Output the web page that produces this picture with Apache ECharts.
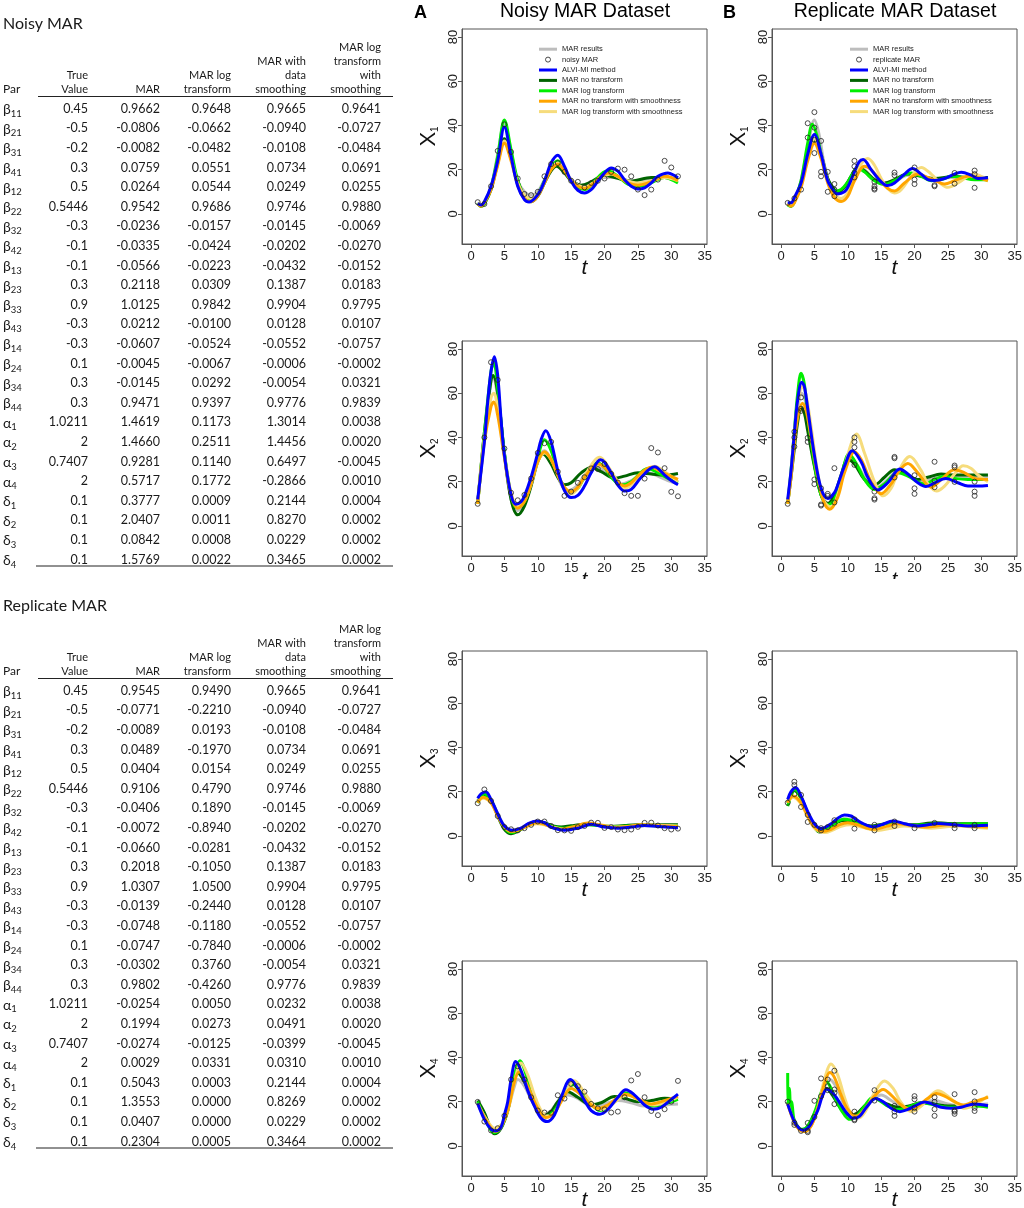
<!DOCTYPE html>
<html>
<head>
<meta charset="utf-8">
<script src="https://cdn.jsdelivr.net/npm/echarts@6/dist/echarts.min.js"></script>
<style>html,body{margin:0;padding:0;background:#fff}#c{width:1024px;height:1208px}</style>
</head>
<body>
<div id="c"></div>
<script>
// ---------------- TABLE DATA ----------------
const parLabels = [['β','11'],['β','21'],['β','31'],['β','41'],['β','12'],['β','22'],['β','32'],['β','42'],['β','13'],['β','23'],['β','33'],['β','43'],['β','14'],['β','24'],['β','34'],['β','44'],['α','1'],['α','2'],['α','3'],['α','4'],['δ','1'],['δ','2'],['δ','3'],['δ','4']];
const tableHeaders = [['True','Value'],['MAR'],['MAR log','transform'],['MAR with','data','smoothing'],['MAR log','transform','with','smoothing']];
const trueValues = ['0.45','-0.5','-0.2','0.3','0.5','0.5446','-0.3','-0.1','-0.1','0.3','0.9','-0.3','-0.3','0.1','0.3','0.3','1.0211','2','0.7407','2','0.1','0.1','0.1','0.1'];
const noisyMAR = ['0.9662','-0.0806','-0.0082','0.0759','0.0264','0.9542','-0.0236','-0.0335','-0.0566','0.2118','1.0125','0.0212','-0.0607','-0.0045','-0.0145','0.9471','1.4619','1.4660','0.9281','0.5717','0.3777','2.0407','0.0842','1.5769'];
const noisyMARlog = ['0.9648','-0.0662','-0.0482','0.0551','0.0544','0.9686','-0.0157','-0.0424','-0.0223','0.0309','0.9842','-0.0100','-0.0524','-0.0067','0.0292','0.9397','0.1173','0.2511','0.1140','0.1772','0.0009','0.0011','0.0008','0.0022'];
const noisyMARsmooth = ['0.9665','-0.0940','-0.0108','0.0734','0.0249','0.9746','-0.0145','-0.0202','-0.0432','0.1387','0.9904','0.0128','-0.0552','-0.0006','-0.0054','0.9776','1.3014','1.4456','0.6497','-0.2866','0.2144','0.8270','0.0229','0.3465'];
const noisyMARlogSmooth = ['0.9641','-0.0727','-0.0484','0.0691','0.0255','0.9880','-0.0069','-0.0270','-0.0152','0.0183','0.9795','0.0107','-0.0757','-0.0002','0.0321','0.9839','0.0038','0.0020','-0.0045','0.0010','0.0004','0.0002','0.0002','0.0002'];
const repMAR = ['0.9545','-0.0771','-0.0089','0.0489','0.0404','0.9106','-0.0406','-0.0072','-0.0660','0.2018','1.0307','-0.0139','-0.0748','-0.0747','-0.0302','0.9802','-0.0254','0.1994','-0.0274','0.0029','0.5043','1.3553','0.0407','0.2304'];
const repMARlog = ['0.9490','-0.2210','0.0193','-0.1970','0.0154','0.4790','0.1890','-0.8940','-0.0281','-0.1050','1.0500','-0.2440','-0.1180','-0.7840','0.3760','-0.4260','0.0050','0.0273','-0.0125','0.0331','0.0003','0.0000','0.0000','0.0005'];
const repMARsmooth = ['0.9665','-0.0940','-0.0108','0.0734','0.0249','0.9746','-0.0145','-0.0202','-0.0432','0.1387','0.9904','0.0128','-0.0552','-0.0006','-0.0054','0.9776','0.0232','0.0491','-0.0399','0.0310','0.2144','0.8269','0.0229','0.3464'];
const repMARlogSmooth = ['0.9641','-0.0727','-0.0484','0.0691','0.0255','0.9880','-0.0069','-0.0270','-0.0152','0.0183','0.9795','0.0107','-0.0757','-0.0002','0.0321','0.9839','0.0038','0.0020','-0.0045','0.0010','0.0004','0.0002','0.0002','0.0002'];

// ---------------- CHART DATA ----------------
const xTicks = [0,5,10,15,20,25,30,35];
const yTicks = [0,20,40,60,80];
const seriesNames = ['MAR results','ALVI-MI method','MAR no transform','MAR log transform','MAR no transform with smoothness','MAR log transform with smoothness'];

// Noisy X1
const noisyX1_marResults = [[1,5],[1.5,4],[2,5],[3,12],[4,27],[5,41],[6,28],[7,15],[8,10],[9,8.5],[10,10],[11,15.5],[12,20.5],[12.8,22],[14,19],[15,15.5],[16.5,13],[18,14],[20,16.5],[21.5,16.5],[24,15],[27,16],[29,16.5],[31,15.5]];
const noisyX1_alvi = [[1,4.7],[1.5,4],[2,5.5],[3,12.5],[4,24],[5,39.3],[6,26],[7,12.5],[8,6.5],[8.7,5.4],[10,8.7],[11,14.8],[12,23],[13,26.5],[14,21.5],[15,14.8],[16,10.7],[17,9.5],[18,11],[19,14.8],[20,18.5],[21,20.8],[22,19.3],[23,15.5],[24,12.5],[25,11.3],[26,11.8],[27,14],[28,17],[29.5,18.5],[30.5,17.3],[31,16.3]];
const noisyX1_noTransform = [[1,5],[1.5,3.5],[2,4.5],[3,11],[4,23],[5,34],[6,25],[7,15],[8,8],[9,5.5],[10,8],[11,14],[12,19.5],[12.8,21.5],[14,18.5],[15,15],[16.5,13],[18,14.5],[20,17.5],[21.5,16.5],[24,14.8],[27,16.5],[29,16.5],[31,15.5]];
const noisyX1_logTransform = [[1,5],[1.5,3.5],[2,4.5],[3,12],[4,26],[5,42.5],[6,29],[7,15],[8,8],[9,6.5],[10,9],[11,15],[12,21],[13,24],[14,20],[15,15],[16,12],[17,11],[18,13],[19.5,18],[20.5,19.5],[22,17],[23.5,13.5],[25,12.5],[26.5,13.5],[28,15.5],[29,16.5],[30,15.5],[31,14]];
const noisyX1_noTransformSmooth = [[1,4.5],[1.5,3.5],[2,5],[3,11],[4,22],[5,32],[6,24],[7,13],[8,7],[9,5.5],[10,8],[11,14],[12,20],[13,22.5],[14,19.5],[15,15],[16,12.5],[17,11.5],[18,13],[19.5,17],[20.5,18.5],[22,17],[23.5,14],[25,13],[26.5,14],[28,16],[29,17],[30,16.5],[31,15]];
const noisyX1_logTransformSmooth = [[1,5],[1.5,4],[2,5.5],[3,12],[4,23],[5,33],[6,25],[7,14],[8,8.5],[9,7],[10,9],[11,14.5],[12,20.5],[13,23],[14,20],[15,15.5],[16,13],[17,12],[18,13.5],[19.5,16.5],[21,18],[22.5,16],[24,14.5],[25,14],[26.5,14.5],[28,15.8],[29,16.5],[30,16],[31,15]];
const noisyX1_points = [5.3,4.5,12.5,28.5,40.5,28,16,9,8.5,10,17,22.5,23,19,15,14.5,12,14,15,16,19,20.5,20,17,11,8.5,11,15.5,24,21,17];

// Noisy X2
const noisyX2_marResults = [[1,10],[2,40],[3,65],[3.3,67],[4,58],[5,32],[6,12],[7,7],[8,10],[9,19],[10,30],[11,34],[12,30],[13,22],[14,16.5],[14.6,16],[16,18.5],[17,23],[18.5,27],[20,25],[21,22],[22.5,19],[24,20.5],[26.5,24],[28,22.5],[29.5,20.5],[31,19]];
const noisyX2_alvi = [[1,12],[2,38],[2.5,56],[3,70],[3.5,76.5],[4,68],[4.5,48],[5,32],[6,14],[6.7,9.8],[7.5,11],[8,13.5],[9,22],[10,33],[10.5,39],[11.2,43],[12,38],[13,25],[14,16],[15,12.8],[16,13.8],[17,18],[18,24],[19.4,29.9],[20,28.8],[21,24],[22,18.5],[23,15.8],[24,16.5],[25.5,22],[27.5,26.7],[29,23],[30,20.5],[31,18.6]];
const noisyX2_noTransform = [[1,10],[2,42],[3,66],[3.3,68],[4,60],[5,33],[6,12],[7,5],[8,9],[9,18],[10,29],[10.8,32.5],[12,28],[13,22],[14,18.6],[15,19.5],[16.5,24],[18,26.4],[19.5,24.5],[21.5,21.6],[23,22.5],[25,24],[27,23.5],[29,23],[31,23.7]];
const noisyX2_logTransform = [[1,10],[2,42],[3,70],[3.4,74],[4,62],[5,33],[6,14],[6.8,8.3],[8,11],[9,20],[10,31],[11,39],[12,34],[13,24],[14,16.5],[14.6,15],[16,17],[17,22],[19,28.5],[20,26.5],[21,22],[22.5,18.5],[24,20],[26.5,26],[28,24],[29.5,21.5],[31,19.6]];
const noisyX2_noTransformSmooth = [[1,10],[2,38],[3,54],[3.4,56],[4,50],[5,31],[6,14],[7,8],[8,11],[9,19],[10,29],[11,33.5],[12,30],[13,23],[14,17.5],[15,15.5],[16,17.5],[17,22],[19,28],[20,26.5],[21,23],[23,18.1],[24,19.5],[25.5,24],[27,26.5],[28.5,24.5],[31,21]];
const noisyX2_logTransformSmooth = [[1,10],[2,40],[3,58],[3.4,60],[4,53],[5,32],[6,15],[7,9],[8,11.5],[9,19],[10,29],[11,33],[12,30],[13,23],[14,17],[15,14.5],[16,17],[17,22.5],[18.5,29.5],[19.3,31],[20.5,27],[22,20],[23,17],[24,18.5],[25.5,23],[27.5,27],[29,24.5],[31,20]];
const noisyX2_points = [10,40,74,66,35,15,11.6,14,21.4,33,37.4,38,24.5,13.6,15.5,19.5,22,26,25.7,28,23.5,19.6,14.8,13.6,13.6,21.4,35.2,33.2,26.1,15.4,13.4];

// Noisy X3
const noisyX3_marResults = [[1,16],[1.5,18.5],[2,19.5],[3,16.5],[4,10],[5,4.5],[6.1,2.5],[7.5,3.5],[8.5,5.3],[9.8,6.5],[11,5.8],[12.3,4],[14,3],[16,3.8],[18,5.2],[20,4.2],[22,3.7],[24,4],[26,4.6],[28,4.4],[31,3.9]];
const noisyX3_alvi = [[1,17],[1.5,19],[2.2,20],[3,16.5],[4,10],[5,4.5],[6.2,2.6],[7.5,3.5],[8.5,5.5],[9.8,6.8],[11,6],[12,4],[13,3],[14,2.6],[16,3.5],[18,5.3],[20,4],[22,3.5],[24,4],[26,4.7],[28,4.3],[31,3.7]];
const noisyX3_noTransform = [[1,15],[1.5,17.5],[2,18.5],[3,16],[4,9],[5,3],[6,1],[7,2],[8.3,4.5],[9.8,6.5],[11,6],[12.3,4.5],[13.5,4],[15,4.6],[17,5.3],[19,4.8],[21,4.3],[23,4.7],[25,5],[28,5],[31,5]];
const noisyX3_logTransform = [[1,15],[1.5,17.5],[2,19],[3,16],[4,9.5],[5,3.8],[6,1.5],[7,2.3],[8.3,4.5],[9.8,6],[11,5.5],[12.5,4],[13.8,3.5],[15.5,4.3],[17.7,5],[19.5,4.6],[21.5,4.2],[23.5,4.5],[25.5,4.8],[28,4.6],[31,4.5]];
const noisyX3_noTransformSmooth = [[1,15],[1.3,16.5],[1.8,17.5],[3,15],[4,9],[5,4],[6,2],[7,2.5],[8.3,4.3],[9.8,6],[11,5.3],[12.3,3.8],[13.5,3],[15.5,4.3],[17.5,5.8],[19.5,4.8],[21.5,3.8],[23.5,4.3],[25.5,5],[28,4.6],[31,4.2]];
const noisyX3_logTransformSmooth = [[1,15],[1.3,16.3],[1.8,17],[3,15],[4,9.5],[5,4.5],[6,2.5],[7,3],[8.3,4.3],[9.8,5.5],[11,5],[12.5,3.8],[14,3],[16,4.2],[18,5.5],[20,4.7],[22,4],[24,4.4],[26,5],[28,4.8],[31,4.5]];
const noisyX3_points = [14.8,21,15.8,9,4,3,2.5,3.5,5,6.5,6.5,4.5,2.6,2.5,2.3,4,4.5,6,5.9,3.6,4,2.9,2.6,2.9,4.1,5.9,6,4.7,3.5,2.9,3.3];

// Noisy X4
const noisyX4_marResults = [[1,20],[2,14],[3,8],[3.5,7],[4.5,9],[5.5,16],[6.5,27],[7,30],[8,27],[9,21],[10,16],[11,14.5],[12,16],[13,20],[14.5,23],[16,21.5],[17.5,18.5],[18.5,18],[20,19],[22,20.5],[24,19.5],[26,18],[28,18],[30,18.8],[31,19]];
const noisyX4_alvi = [[1,19.2],[2,12],[3,7.5],[3.7,6.8],[4.5,8.5],[5,14],[5.5,20],[6,30],[6.7,38.2],[7.5,34],[8.5,25],[9.5,18],[10.5,12.5],[11.4,11],[12.5,14],[13.5,22],[14.9,30],[16,26],[17,20.5],[18,16],[19.3,14.3],[20.5,16.5],[22,22],[23.2,25.4],[24.5,23],[26,18.5],[27.3,16.6],[28.5,17.5],[30,21],[31,23.4]];
const noisyX4_noTransform = [[1,20.5],[2,15],[3,7.5],[3.5,5.5],[4.5,8],[5.5,16],[6.3,28],[7,33],[8,29],[9,22],[10,16],[11,14],[12,15.5],[13,20],[14.5,24.5],[16,22],[18,18.6],[19.5,19.5],[21.5,22.3],[23,21.5],[25,20],[27,20.5],[29,21.5],[31,21]];
const noisyX4_logTransform = [[1,20],[2,13],[3,7],[3.5,6],[4.5,8.5],[5.5,16],[6.5,32],[7.3,38.5],[8.5,30],[9.5,21],[10.5,15],[11.3,13.5],[12.5,16],[14,23.5],[15.2,27.9],[16.5,24],[18,19],[19.3,16],[20.5,17.5],[22,21.5],[23,24],[24.5,22],[26,19],[27,18],[28.5,18.5],[31,21]];
const noisyX4_noTransformSmooth = [[1,19],[2,13],[3,8],[3.7,6.5],[4.5,8.5],[5.5,16],[6.5,29],[7.2,33.5],[8.5,27],[9.5,20],[10.5,14.5],[11.2,12.8],[12.5,15],[13.5,20],[15,26],[16.5,23],[18,18.5],[19,17],[20.5,18.5],[22,22],[23,23.4],[24.5,22],[26,19.8],[27,19],[28.5,20],[31,22.5]];
const noisyX4_logTransformSmooth = [[1,19],[2,13.5],[3,9],[3.5,8],[4.5,9.5],[5.5,16],[6.5,29],[7.5,37.5],[8.5,32],[9.5,23],[10.5,16],[11.5,13.5],[12.5,15],[14,23],[15.5,29.5],[17,24],[18.5,18],[19.5,16.5],[21,18.5],[22.5,22],[23.5,23],[25,21],[26.5,19],[27.5,18.5],[29,19.5],[31,22]];
const noisyX4_points = [19.9,11,7,8,13.6,30,36,30,22,16,15.1,15,22.9,21.4,28,27,24.5,19,17,16.5,15.1,15.5,22,29.6,32.5,22,15.8,13.9,16.6,20,29.4];

// Replicate X1
const repX1_marResults = [[1,5],[1.5,4],[2,6],[3,15],[4,30],[5,42.5],[5.7,36],[6.5,22],[7.5,12],[8.3,10],[9.5,12],[10.5,17],[11.5,21],[12.5,20],[14,15.5],[15.5,13.5],[17,14.5],[19,17.5],[21,17],[23,15.5],[25.5,16.5],[28,16.5],[31,16]];
const repX1_alvi = [[1,5],[1.5,5],[2,7.5],[3,14],[4,27],[5,35.9],[6,27],[7,15],[8,10],[8.5,9],[9.5,10],[10,12],[11,19],[11.7,23.5],[12.3,24.6],[13.5,20],[15,14.5],[16,12.8],[17,14],[18.5,18],[19.7,20.5],[21,18],[22,15.5],[23,15.1],[24.5,16],[26,18],[27,18.8],[28.5,17.5],[29.5,16],[31,16.3]];
const repX1_noTransform = [[1,4.5],[1.5,3.5],[2,5.5],[3,14],[4,26],[5,33],[6,27],[7,16],[8,11],[8.5,10],[9.5,12],[10.5,17],[11.5,21],[12.5,19.5],[14,15.5],[15.5,14],[17,15.5],[19,18],[21,17],[23,16],[26,17],[28,16.5],[31,16.5]];
const repX1_logTransform = [[1,4],[1.5,3.5],[2,5.5],[3,15],[4,32],[4.7,40.5],[5.5,34],[6.5,20],[7.5,11],[8,10.2],[9,11],[10,14.5],[11.5,20.8],[12.5,19],[14,15],[15.5,13.3],[17,15],[19.5,18.5],[21,17],[22.5,15],[24,15.5],[25.5,17],[27,16.5],[29,15.5],[31,15.5]];
const repX1_noTransformSmooth = [[1,4.5],[1.5,3.5],[2,5],[3,12],[4,24],[5,32],[6,25],[7,14],[8,7.5],[9,5.6],[10,8],[11,15],[12.5,21.5],[13.5,20],[15,14.5],[16,11.5],[17,10.4],[18.5,14],[20.5,18],[22,16.5],[23.5,14.5],[24.5,13.5],[26,15],[28,17],[29.5,16.5],[31,15]];
const repX1_logTransformSmooth = [[1,5],[1.5,4],[2,5.5],[3,13],[4,26],[5,34],[6,27],[7,15],[8,8.5],[9,7],[10,9.5],[11,16],[12,22.5],[13,25],[14,22],[15,16],[16,11.5],[17,9.5],[18,11],[19.5,17],[21,21],[22.5,18],[24,13.5],[25,12],[26.5,14],[28,17],[29,18],[30,17],[31,15.5]];
const repX1_points = [[1,5],[2,7],[3,11],[4,41],[4,34.5],[5,46],[5,39],[5,33.5],[5,27.5],[6,33],[6,19],[6,17],[7,19],[7,10],[8,13.5],[8,11],[8,8],[11,24],[11,21.5],[11,18.5],[11,16.5],[14,14.5],[14,12.5],[14,11.5],[14,11],[17,18.7],[17,17.5],[20,21],[20,15.5],[20,13.5],[23,13],[23,12.5],[26,18.5],[26,13.7],[29,19.6],[29,18],[29,11.8]];

// Replicate X2
const repX2_marResults = [[1,10],[1.5,24],[2,40],[2.5,53],[3.1,60],[3.6,57],[4.2,46],[5,28],[6,14],[7,10.5],[8,13],[9,21],[10.3,31],[11.5,27],[13,20],[14.3,17.5],[16,21],[17.5,25],[19,23],[21,20],[23,21.5],[25,23],[27,22.5],[31,22]];
const repX2_alvi = [[1,12],[1.5,25],[2,42],[2.5,57],[3.1,65],[3.5,63],[4,53],[5,32],[6,17],[7,12.4],[8,15],[8.5,18.5],[9.5,27],[10.7,34],[12,29],[13,22],[14.5,16.2],[16,19.5],[17.8,25.7],[19,23.5],[20.5,19.5],[21.7,17.8],[23,19.5],[24.7,21.4],[26.5,19.5],[28,18],[29.5,18],[31,18.3]];
const repX2_noTransform = [[1,10],[1.5,22],[2,35],[2.5,47],[3,53.5],[3.5,51],[4,43],[5,27],[6,14],[7,10],[8,14],[9,23],[10,30],[11,28],[12.5,21],[14,18.6],[15.5,22],[17,25.4],[18.5,24],[20.5,21],[22,22],[24,23.5],[26,23],[28,23],[31,23]];
const repX2_logTransform = [[1,10],[1.5,25],[2,43],[2.5,60],[3,69],[3.5,64],[4,50],[5,28],[6,14],[7,9.5],[8,12],[9,22],[10.2,32.5],[11.5,27],[12.5,21],[14,16.5],[15.5,19],[17.5,24],[19,22.5],[21.5,19],[23,21],[24.5,22.5],[26,21.5],[28,21],[31,21]];
const repX2_noTransformSmooth = [[1,10],[1.5,22],[2,37],[2.5,49],[3.2,55.5],[3.7,53],[4.5,40],[5.5,22],[6.5,10],[7.3,7.5],[8.5,13],[9.5,24],[11,33.5],[12,30],[13.5,20],[15,14.5],[16.5,19],[17.5,24],[19,28.2],[20.5,24],[22.5,17.5],[24,21],[26,25.4],[27.5,24],[29,21.5],[31,21]];
const repX2_logTransformSmooth = [[1,10],[1.5,24],[2,42],[2.5,55],[3.2,63],[3.7,60],[4.5,45],[5.5,24],[6.5,11],[7.5,8.5],[8.5,14],[9.5,26],[10.5,37],[11.3,41.5],[12.5,33],[14,20],[15.3,13.6],[16.5,17],[17.5,24],[19.3,31.4],[21,25],[22,19],[23.3,15.8],[24.5,18],[26,23.5],[27.3,27.2],[28.5,26],[29.5,23],[31,20]];
const repX2_points = [[1,10],[2,42.6],[2,40],[2,35.8],[3,58.1],[3,53],[3,52],[4,39.8],[4,38],[5,21],[5,18.9],[6,17],[6,9.7],[6,9.2],[7,14.5],[7,13.6],[8,26.1],[8,10.6],[11,40],[11,38],[11,35.5],[11,27.6],[14,15.5],[14,12.5],[14,11.9],[17,31.2],[17,30.6],[17,21.9],[20,22.9],[20,17],[20,14.5],[23,29],[23,20.5],[23,17.5],[26,27.3],[26,26.5],[26,19.9],[29,20],[29,15.5],[29,13.6]];

// Replicate X3
const repX3_marResults = [[1,15],[1.5,19],[2.1,21],[3,17.5],[4,10.5],[5,5],[6,2.8],[7.5,4.5],[8.5,6.5],[9.5,7.8],[10.7,7.2],[12,5.5],[13.8,4.2],[15.2,5],[16.8,6.3],[18.5,5.4],[20.3,4.7],[22,5],[23.5,5.4],[26,5],[31,4.9]];
const repX3_alvi = [[1,16.5],[1.5,20],[2.2,21.9],[3,18],[4,11],[5,5.5],[6,3.3],[7.5,5.5],[8.5,8],[9.5,9.5],[10.5,9],[11,8],[12,6],[13.8,4.1],[15,5],[16.8,6.8],[18.5,5.5],[20.5,4.5],[22,5],[23.5,5.6],[26,5],[28,4.5],[31,4.8]];
const repX3_noTransform = [[1,15],[1.5,19],[2,21],[3,17.5],[4,10],[5,4],[5.8,1.8],[7,3.5],[8.2,5.8],[9.3,7],[10.5,6.8],[12,5.3],[13.5,4.5],[15,5.2],[16.5,6],[18.3,5.4],[20,5],[21.5,5.5],[23,6],[25,5.6],[28,5.5],[31,5.5]];
const repX3_logTransform = [[1,13.5],[1.5,18],[2,20.5],[3,17],[4,10],[5,4],[5.8,2],[7,3.5],[8.2,6],[9.3,7.5],[10.5,7],[12,5],[13.5,4],[15,5],[16.8,6.3],[18.5,5.3],[20,4.8],[21.8,5.2],[23.5,5.5],[26,5.3],[28,5.5],[31,5.5]];
const repX3_noTransformSmooth = [[1,15],[1.3,16.8],[1.8,18],[3,15],[4,9],[5,4],[6.2,2],[7.5,3],[8.7,5],[10,6],[11.5,5],[12.8,3.6],[14,3],[15.8,4.3],[17.5,5.5],[19.5,4.8],[21.5,4],[23.3,4.5],[25,5],[28,4.5],[31,4]];
const repX3_logTransformSmooth = [[1,15],[1.3,16.5],[1.8,17.5],[3,14.5],[4,8.5],[5,3.5],[6.5,1.5],[8,3],[9,4.3],[10.3,5],[12,4],[14.5,2.5],[16.5,3.5],[18.5,4.5],[20.5,4],[22.5,3.5],[24.5,4],[26.5,4.5],[28.5,4],[31,3.5]];
const repX3_points = [[1,15],[2,24.5],[2,23],[2,18.9],[3,18.5],[3,13.1],[4,9.5],[4,6.3],[5,5],[6,3.5],[6,2.5],[7,4],[8,7.1],[8,5.5],[11,7.5],[11,3.3],[14,5],[14,2.5],[17,6.5],[17,4.5],[20,3.5],[23,5.9],[26,5],[26,3.5],[29,5],[29,3.5]];

// Replicate X4
const repX4_marResults = [[1,19.5],[2,11],[2.7,8],[3.5,7],[4.5,9.5],[5.5,17],[6.5,26.5],[7.3,30],[8.3,26.5],[9.5,18.5],[11,13.5],[12.5,17],[14,21.5],[15,23],[16.5,20.5],[18,17.5],[19,17],[21,19.5],[23,20.5],[25,19],[27,18],[29,18.5],[31,19]];
const repX4_alvi = [[1,18.9],[2,11],[2.7,8],[3.3,7.1],[4,8],[4.5,10],[5.5,16],[6.2,22.5],[6.9,25.7],[8,23],[9,18.5],[9.8,15],[10.8,12.5],[11.8,13.5],[12.8,17.5],[14.2,21.4],[15.5,19.5],[16.5,17],[17.8,15.5],[19,16.5],[20,18],[21.5,19.9],[23,18.5],[24,17.5],[25.5,17],[27,17.5],[29,19],[31,18.2]];
const repX4_noTransform = [[1,20],[2,11.5],[2.7,8],[3.2,7],[4,9],[5,14.5],[6,21.5],[6.8,26],[7.7,23],[8.7,18],[9.5,15],[10.5,14],[11.5,15],[12.5,18],[14,21.5],[15.5,19.5],[17.5,17.5],[19,18],[21,19.5],[23,19],[25,18],[27,18],[29,18.5],[31,18]];
const repX4_logTransform = [[1,33],[1.05,18],[1.25,26],[1.45,15],[1.6,20],[2,11],[2.7,8],[3.2,7.5],[4,9],[5,15],[6,24],[6.8,29.1],[7.5,26],[8.5,19],[9.5,14],[10.3,12],[11.5,14],[12.5,18],[13.8,22],[15,20],[16,18],[17.5,16.5],[19,17.5],[21,19.5],[23,18.5],[25,17.5],[27,17.5],[29,18],[31,17.5]];
const repX4_noTransformSmooth = [[1,19],[2,10.5],[2.7,7.5],[3.5,6.5],[4.5,9],[5.5,17],[6.5,28],[7.3,33.2],[8,31],[9,23],[10,16.5],[11.3,13.5],[12.5,16.5],[14,22.5],[15.3,25.5],[16.5,23],[18,18.5],[19.3,16.5],[20.5,18],[22,21.5],[23.3,23.7],[24.5,22.5],[26,20],[27.3,18.5],[28.5,19.5],[30,21],[31,22]];
const repX4_logTransformSmooth = [[1,19],[2,10.5],[2.7,7.5],[3.5,6.5],[4.5,9],[5.5,17],[6.5,30],[7.5,37],[8.5,32],[9.5,22],[10.5,14.5],[11.5,12.5],[12.5,15],[14,24],[15.5,29.4],[16.8,26],[18,19.5],[19.5,15.5],[21,18],[22.5,23],[23.5,24.9],[25,22.5],[26.5,18.5],[27.5,17],[29,18.5],[31,22.5]];
const repX4_points = [[1,20],[2,9.5],[2,10.5],[3,6.8],[4,10.4],[4,6.8],[4,6.2],[5,20.4],[5,13.1],[6,30.5],[6,22.5],[7,30],[7,27],[7,25.2],[8,34],[8,25.5],[8,24],[8,18.9],[11,15.5],[11,12.1],[11,11.6],[14,25.2],[14,20.5],[17,18.1],[17,15.5],[17,13.6],[20,22.5],[20,21.1],[20,17.2],[20,15.5],[23,22],[23,19.9],[23,16.6],[23,13.6],[26,23.4],[26,16],[26,15.5],[26,14.5],[29,24.3],[29,20.1],[29,17.2],[29,15.8]];

// ---------------- BUILD ----------------
const styles = {
  'MAR results': {color:'#bdbdbd', z:2},
  'ALVI-MI method': {color:'#0000ff', z:7},
  'MAR no transform': {color:'#006400', z:3},
  'MAR log transform': {color:'#00ee00', z:4},
  'MAR no transform with smoothness': {color:'#ffa500', z:6},
  'MAR log transform with smoothness': {color:'#f6dc7c', z:5}
};
const toXY = arr => arr.map((v, i) => [i + 1, v]);
const panels = [
  {curves:[noisyX1_marResults,noisyX1_alvi,noisyX1_noTransform,noisyX1_logTransform,noisyX1_noTransformSmooth,noisyX1_logTransformSmooth], points:toXY(noisyX1_points), pname:'noisy MAR', sub:'1'},
  {curves:[repX1_marResults,repX1_alvi,repX1_noTransform,repX1_logTransform,repX1_noTransformSmooth,repX1_logTransformSmooth], points:repX1_points, pname:'replicate MAR', sub:'1'},
  {curves:[noisyX2_marResults,noisyX2_alvi,noisyX2_noTransform,noisyX2_logTransform,noisyX2_noTransformSmooth,noisyX2_logTransformSmooth], points:toXY(noisyX2_points), pname:'noisy MAR', sub:'2'},
  {curves:[repX2_marResults,repX2_alvi,repX2_noTransform,repX2_logTransform,repX2_noTransformSmooth,repX2_logTransformSmooth], points:repX2_points, pname:'replicate MAR', sub:'2'},
  {curves:[noisyX3_marResults,noisyX3_alvi,noisyX3_noTransform,noisyX3_logTransform,noisyX3_noTransformSmooth,noisyX3_logTransformSmooth], points:toXY(noisyX3_points), pname:'noisy MAR', sub:'3'},
  {curves:[repX3_marResults,repX3_alvi,repX3_noTransform,repX3_logTransform,repX3_noTransformSmooth,repX3_logTransformSmooth], points:repX3_points, pname:'replicate MAR', sub:'3'},
  {curves:[noisyX4_marResults,noisyX4_alvi,noisyX4_noTransform,noisyX4_logTransform,noisyX4_noTransformSmooth,noisyX4_logTransformSmooth], points:toXY(noisyX4_points), pname:'noisy MAR', sub:'4'},
  {curves:[repX4_marResults,repX4_alvi,repX4_noTransform,repX4_logTransform,repX4_noTransformSmooth,repX4_logTransformSmooth], points:repX4_points, pname:'replicate MAR', sub:'4'}
];

const AX = "'Liberation Sans', Arial, sans-serif";
const TB = "Lato, 'Noto Sans', sans-serif";
const colLeft = [462, 772];
const rowTop = [29, 341, 651, 961];
const grids = [], xAxes = [], yAxes = [], series = [];
const pointStyle = {color: 'rgba(255,255,255,0)', borderColor: '#222', borderWidth: 1};

panels.forEach((p, i) => {
  const col = i % 2, row = Math.floor(i / 2);
  grids.push({left: colLeft[col], top: rowTop[row], width: 245, height: 215, show: true, borderColor: '#555', borderWidth: 1, backgroundColor: 'transparent', containLabel: false, outerBoundsMode: 'none'});
  xAxes.push({gridIndex: i, type: 'value', min: -1.35, max: 35.35,
    axisLine: {show: true, onZero: false, lineStyle: {color: '#555'}},
    splitLine: {show: false},
    axisTick: {show: true, length: 4, customValues: xTicks, lineStyle: {color: '#555'}},
    axisLabel: {customValues: xTicks, fontSize: 13, color: '#222', margin: 6, fontFamily: AX},
    name: 't', nameLocation: 'middle', nameGap: 14, nameMoveOverlap: false,
    nameTextStyle: {fontSize: 21, fontStyle: 'italic', color: '#111', fontFamily: AX}
  });
  yAxes.push({gridIndex: i, type: 'value', min: -13.6, max: 83.6,
    axisLine: {show: true, onZero: false, lineStyle: {color: '#555'}},
    splitLine: {show: false},
    axisTick: {show: true, length: 4, customValues: yTicks, lineStyle: {color: '#555'}},
    axisLabel: {customValues: yTicks, fontSize: 13, color: '#222', margin: 2, rotate: 90, fontFamily: AX},
    name: '{x|X}{s|' + p.sub + '}', nameLocation: 'middle', nameRotate: 90, nameGap: 22,
    nameTextStyle: {rich: {
      x: {fontSize: 22, lineHeight: 22, color: '#111', fontFamily: AX},
      s: {fontSize: 10, lineHeight: 14, verticalAlign: 'bottom', color: '#111', fontFamily: AX}
    }}
  });
  p.curves.forEach((c, k) => {
    const nm = seriesNames[k];
    series.push({type: 'line', name: nm, xAxisIndex: i, yAxisIndex: i, data: c,
      smooth: 0.35, showSymbol: false, symbol: 'none', z: styles[nm].z,
      lineStyle: {color: styles[nm].color, width: 3}, itemStyle: {color: styles[nm].color},
      silent: true, animation: false});
  });
  series.push({type: 'scatter', name: p.pname, xAxisIndex: i, yAxisIndex: i, data: p.points,
    symbol: 'circle', symbolSize: 5, z: 9, itemStyle: pointStyle, silent: true, animation: false});
});

const LINE_ICON = 'path://M0,0L18,0L18,3L0,3Z';
const legendNames = pn => [
  {name: 'MAR results', icon: LINE_ICON},
  {name: pn, icon: 'circle', itemStyle: pointStyle},
  {name: 'ALVI-MI method', icon: LINE_ICON},
  {name: 'MAR no transform', icon: LINE_ICON},
  {name: 'MAR log transform', icon: LINE_ICON},
  {name: 'MAR no transform with smoothness', icon: LINE_ICON},
  {name: 'MAR log transform with smoothness', icon: LINE_ICON}
];
const legendBase = {orient: 'vertical', itemWidth: 18, itemHeight: 5, itemGap: 0, selectedMode: false,
  textStyle: {fontSize: 7.5, lineHeight: 10.4, color: '#222', fontFamily: AX}, padding: 0};

// ---------------- GRAPHICS (titles + tables) ----------------
const graphics = [];
function txt(x, y, text, o) {
  graphics.push({type: 'text', x: x, y: y, z: 50, silent: true,
    style: Object.assign({text: text, fill: '#1a1a1a', fontFamily: TB, fontSize: 12, align: 'left', verticalAlign: 'middle'}, o || {})});
}
function buildTable(title, offY, cols) {
  txt(3, 24 + offY, title, {fontSize: 16});
  txt(3, 89 + offY, 'Par', {fontSize: 12});
  const rights = [88, 160, 231, 306, 381];
  tableHeaders.forEach((lines, c) => {
    lines.forEach((ln, j) => {
      txt(rights[c], 89 + offY - 14 * (lines.length - 1 - j), ln, {fontSize: 11, align: 'right'});
    });
  });
  graphics.push({type: 'line', z: 50, silent: true, shape: {x1: 38, y1: 96.5 + offY, x2: 393, y2: 96.5 + offY}, style: {stroke: '#222', lineWidth: 1}});
  parLabels.forEach((pl, r) => {
    const y = 108.7 + offY + r * 19.6;
    txt(3, y + 1, '{g|' + pl[0] + '}{s|' + pl[1] + '}', {rich: {
      g: {fontSize: 14, lineHeight: 18, fontFamily: TB, fill: '#1a1a1a'},
      s: {fontSize: 9.5, lineHeight: 11, verticalAlign: 'bottom', fontFamily: TB, fill: '#1a1a1a'}
    }});
    cols.forEach((arr, c) => txt(rights[c], y, arr[r], {fontSize: 12.5, align: 'right'}));
  });
  graphics.push({type: 'line', z: 50, silent: true, shape: {x1: 36, y1: 566 + offY, x2: 393, y2: 566 + offY}, style: {stroke: '#222', lineWidth: 1}});
}
buildTable('Noisy MAR', 0, [trueValues, noisyMAR, noisyMARlog, noisyMARsmooth, noisyMARlogSmooth]);
buildTable('Replicate MAR', 582, [trueValues, repMAR, repMARlog, repMARsmooth, repMARlogSmooth]);

// panel titles
txt(414, 13, 'A', {fontFamily: AX, fontSize: 18, fontWeight: 'bold', fill: '#000'});
txt(585, 12, 'Noisy MAR Dataset', {fontFamily: AX, fontSize: 19.5, align: 'center', fill: '#000'});
txt(723, 13, 'B', {fontFamily: AX, fontSize: 18, fontWeight: 'bold', fill: '#000'});
txt(895, 12, 'Replicate MAR Dataset', {fontFamily: AX, fontSize: 19.5, align: 'center', fill: '#000'});
// row-2 axis titles are cut off in the source figure
graphics.push({type: 'rect', z: 100, silent: true, shape: {x: 420, y: 579, width: 604, height: 24}, style: {fill: '#fff'}});

const chart = echarts.init(document.getElementById('c'), null, {renderer: 'canvas'});
chart.setOption({
  animation: false,
  backgroundColor: '#fff',
  grid: grids,
  xAxis: xAxes,
  yAxis: yAxes,
  legend: [
    Object.assign({}, legendBase, {left: 539, top: 44, data: legendNames('noisy MAR')}),
    Object.assign({}, legendBase, {left: 850, top: 44, data: legendNames('replicate MAR')})
  ],
  graphic: {elements: graphics},
  series: series
});
</script>
</body>
</html>
